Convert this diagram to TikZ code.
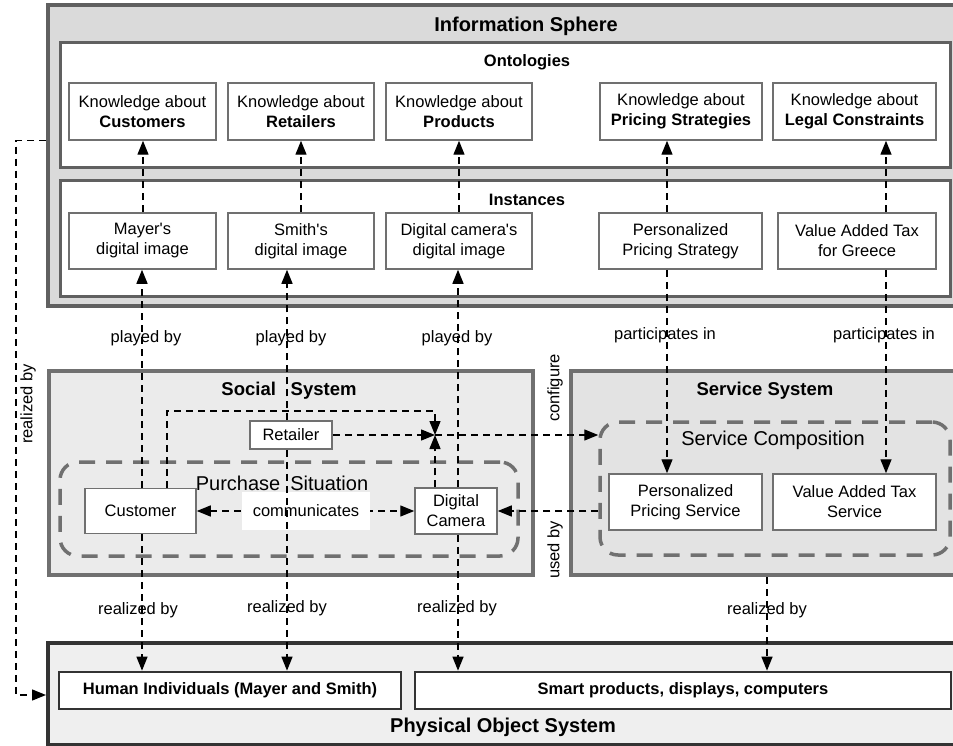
\documentclass[tikz,border=0pt]{standalone}
\usepackage{fontspec}
\setmainfont[Ligatures=TeXOff]{Liberation Sans}
\usetikzlibrary{arrows.meta}
\definecolor{spherefill}{HTML}{DADADA}
\definecolor{socialfill}{HTML}{EBEBEB}
\definecolor{servicefill}{HTML}{E3E3E3}
\definecolor{physfill}{HTML}{EFEFEF}
\definecolor{bordergray}{HTML}{606060}
\definecolor{itemgray}{HTML}{707070}
\definecolor{darkline}{HTML}{333333}
\tikzset{
  txt/.style={font=\fontsize{16.5}{20}\selectfont},
  area/.style={draw=bordergray,line width=4pt,inner sep=0pt},
  layer/.style={draw=bordergray,line width=3pt,fill=white,inner sep=0pt},
  item/.style={draw=itemgray,line width=1.5pt,fill=white,inner sep=0pt,align=center,txt},
  physitem/.style={draw=darkline,line width=2.7pt,fill=white,inner sep=0pt,txt,font=\fontsize{16.5}{20}\selectfont\bfseries},
  group/.style={draw=itemgray,line width=3.5pt,dash pattern=on 16pt off 11pt,rounded corners=18pt,inner sep=0pt},
  title/.style={font=\fontsize{20}{24}\selectfont\bfseries,inner sep=0pt},
  subtitle/.style={font=\fontsize{18.5}{22}\selectfont\bfseries,inner sep=0pt},
  grouptitle/.style={font=\fontsize{20}{24}\selectfont,inner sep=0pt},
  lbl/.style={txt,inner sep=0pt},
  flow/.style={line width=1.4pt,dash pattern=on 7pt off 5pt,-{Triangle[length=14pt,width=11pt]}},
  bothflow/.style={line width=1.4pt,dash pattern=on 7pt off 5pt,{Triangle[length=14pt,width=11pt]}-{Triangle[length=14pt,width=11pt]}}
}
\begin{document}
\begin{tikzpicture}[x=1pt,y=-1pt]
  \useasboundingbox (0,0) rectangle (953,746);
  %information sphere
  \node[area,fill=spherefill,minimum width=912pt,minimum height=301pt] (info) at (504,155.5) {};
  \node[title] (infotitle) at (526,26) {Information Sphere};
  \node[layer,minimum width=890pt,minimum height=125pt] (onto) at (505,105.5) {};
  \node[lbl,font=\fontsize{16.5}{20}\selectfont\bfseries] (ontotitle) at (527,62) {Ontologies};
  \node[layer,minimum width=890pt,minimum height=115pt] (inst) at (505,238.5) {};
  \node[lbl,font=\fontsize{16.5}{20}\selectfont\bfseries] (insttitle) at (527,200) {Instances};
  %ontologies
  \node[item,minimum width=147pt,minimum height=57pt] (k1) at (142.5,111.5) {Knowledge about\\\textbf{Customers}};
  \node[item,minimum width=146pt,minimum height=57pt] (k2) at (301,111.5) {Knowledge about\\\textbf{Retailers}};
  \node[item,minimum width=146pt,minimum height=57pt] (k3) at (459,111.5) {Knowledge about\\\textbf{Products}};
  \node[item,minimum width=162pt,minimum height=57pt] (k4) at (681,111.5) {Knowledge about\\\textbf{Pricing Strategies}};
  \node[item,minimum width=163pt,minimum height=57pt] (k5) at (854.5,111.5) {Knowledge about\\\textbf{Legal Constraints}};
  %instances
  \node[item,minimum width=147pt,minimum height=56pt] (i1) at (142.5,241) {Mayer's\\digital image};
  \node[item,minimum width=146pt,minimum height=56pt] (i2) at (301,241) {Smith's\\digital image};
  \node[item,minimum width=146pt,minimum height=56pt] (i3) at (459,241) {Digital camera's\\digital image};
  \node[item,minimum width=163pt,minimum height=56pt] (i4) at (680.5,241) {Personalized\\Pricing Strategy};
  \node[item,minimum width=158pt,minimum height=56pt] (i5) at (857,241) {Value Added Tax\\for Greece};
  %social system
  \node[area,draw=itemgray,fill=socialfill,minimum width=484pt,minimum height=204pt] (social) at (291,473) {};
  \node[subtitle] (socialtitle) at (289,391) {Social\hspace{0.8em}System};
  \node[group,minimum width=458pt,minimum height=94pt] (purchase) at (289,509) {};
  \node[grouptitle] (purchasetitle) at (282,483) {Purchase\hspace{0.5em}Situation};
  \node[item,minimum width=111pt,minimum height=45pt] (cust) at (140.5,511) {Customer};
  \node[item,minimum width=82pt,minimum height=28pt] (ret) at (291,435) {Retailer};
  \node[item,minimum width=82pt,minimum height=46pt] (cam) at (456,511) {Digital\\Camera};
  %service system
  \node[area,draw=itemgray,fill=servicefill,minimum width=389pt,minimum height=204pt] (service) at (765.5,473) {};
  \node[subtitle] (servicetitle) at (765,391) {Service System};
  \node[group,minimum width=350pt,minimum height=133pt] (comp) at (775,488.5) {};
  \node[grouptitle] (comptitle) at (773,440) {Service Composition};
  \node[item,minimum width=153pt,minimum height=56pt] (pps) at (685.5,502) {Personalized\\Pricing Service};
  \node[item,minimum width=163pt,minimum height=56pt] (vat) at (854.5,502) {Value Added Tax\\Service};
  %physical object system
  \node[area,draw=darkline,fill=physfill,minimum width=912pt,minimum height=102pt] (phys) at (504,694) {};
  \node[title] (physitle) at (503,727) {Physical Object System};
  \node[physitem,minimum width=342pt,minimum height=37pt] (human) at (230,690.5) {Human Individuals (Mayer and Smith)};
  \node[physitem,minimum width=536pt,minimum height=37pt] (smart) at (683,690.5) {Smart products, displays, computers};
  %columns
  \coordinate (oc1) at (143,0);
  \coordinate (oc2) at (301,0);
  \coordinate (oc3) at (459,0);
  \coordinate (oc4) at (667,0);
  \coordinate (oc5) at (886,0);
  \coordinate (c1) at (142,0);
  \coordinate (c2) at (287,0);
  \coordinate (c3) at (458,0);
  \coordinate (c4) at (767,0);
  \coordinate (cc) at (167,411);
  \coordinate (j) at (435,435);
  \coordinate (lp) at (16,0);
  %instance of
  \draw[flow] (i1.north -| oc1) -- (k1.south -| oc1);
  \draw[flow] (i2.north -| oc2) -- (k2.south -| oc2);
  \draw[flow] (i3.north -| oc3) -- (k3.south -| oc3);
  \draw[flow] (i4.north -| oc4) -- (k4.south -| oc4);
  \draw[flow] (i5.north -| oc5) -- (k5.south -| oc5);
  %played by
  \draw[flow] (cust.north -| c1) -- (i1.south -| c1);
  \draw[flow] (ret.north -| c2) -- (i2.south -| c2);
  \draw[flow] (cam.north -| c3) -- (i3.south -| c3);
  \node[lbl] (pb1) at (146,338) {played by};
  \node[lbl] (pb2) at (291,338) {played by};
  \node[lbl] (pb3) at (457,338) {played by};
  %participates in
  \draw[flow] (i4.south -| oc4) -- (pps.north -| oc4);
  \draw[flow] (i5.south -| oc5) -- (vat.north -| oc5);
  \node[lbl] (pi1) at (665,335) {participates in};
  \node[lbl] (pi2) at (884,335) {participates in};
  %configure
  \draw[flow] (cust.north -| cc) -- (cc) -| (j);
  \draw[flow] (ret.east) -- (j);
  \draw[flow] (cam.north -| j) -- (j);
  \draw[flow] (j) -- (comp.west |- j);
  \node[lbl,rotate=90] (cfg) at (555,388) {configure};
  %used by
  \draw[flow] (comp.west |- cam.east) -- (cam.east);
  \node[lbl,rotate=90] (usedby) at (555,550) {used by};
  %communicates
  \draw[bothflow] (cust.east) -- (cam.west);
  \node[lbl,fill=white,minimum width=128pt,minimum height=38pt] (comm) at (306,511) {communicates};
  %realized by
  \draw[flow] (cust.south -| c1) -- (human.north -| c1);
  \draw[flow] (ret.south -| c2) -- (human.north -| c2);
  \draw[flow] (cam.south -| c3) -- (smart.north -| c3);
  \draw[flow] (service.south -| c4) -- (smart.north -| c4);
  \node[lbl] (rb1) at (138,610) {realized by};
  \node[lbl] (rb2) at (287,608) {realized by};
  \node[lbl] (rb3) at (457,608) {realized by};
  \node[lbl] (rb4) at (767,610) {realized by};
  \draw[flow] (info.west |- k1.south) -- (lp |- k1.south) -- (lp |- 0,695) -- (phys.west |- 0,695);
  \node[lbl,rotate=90] (rb0) at (28,404) {realized by};
\end{tikzpicture}
\end{document}
